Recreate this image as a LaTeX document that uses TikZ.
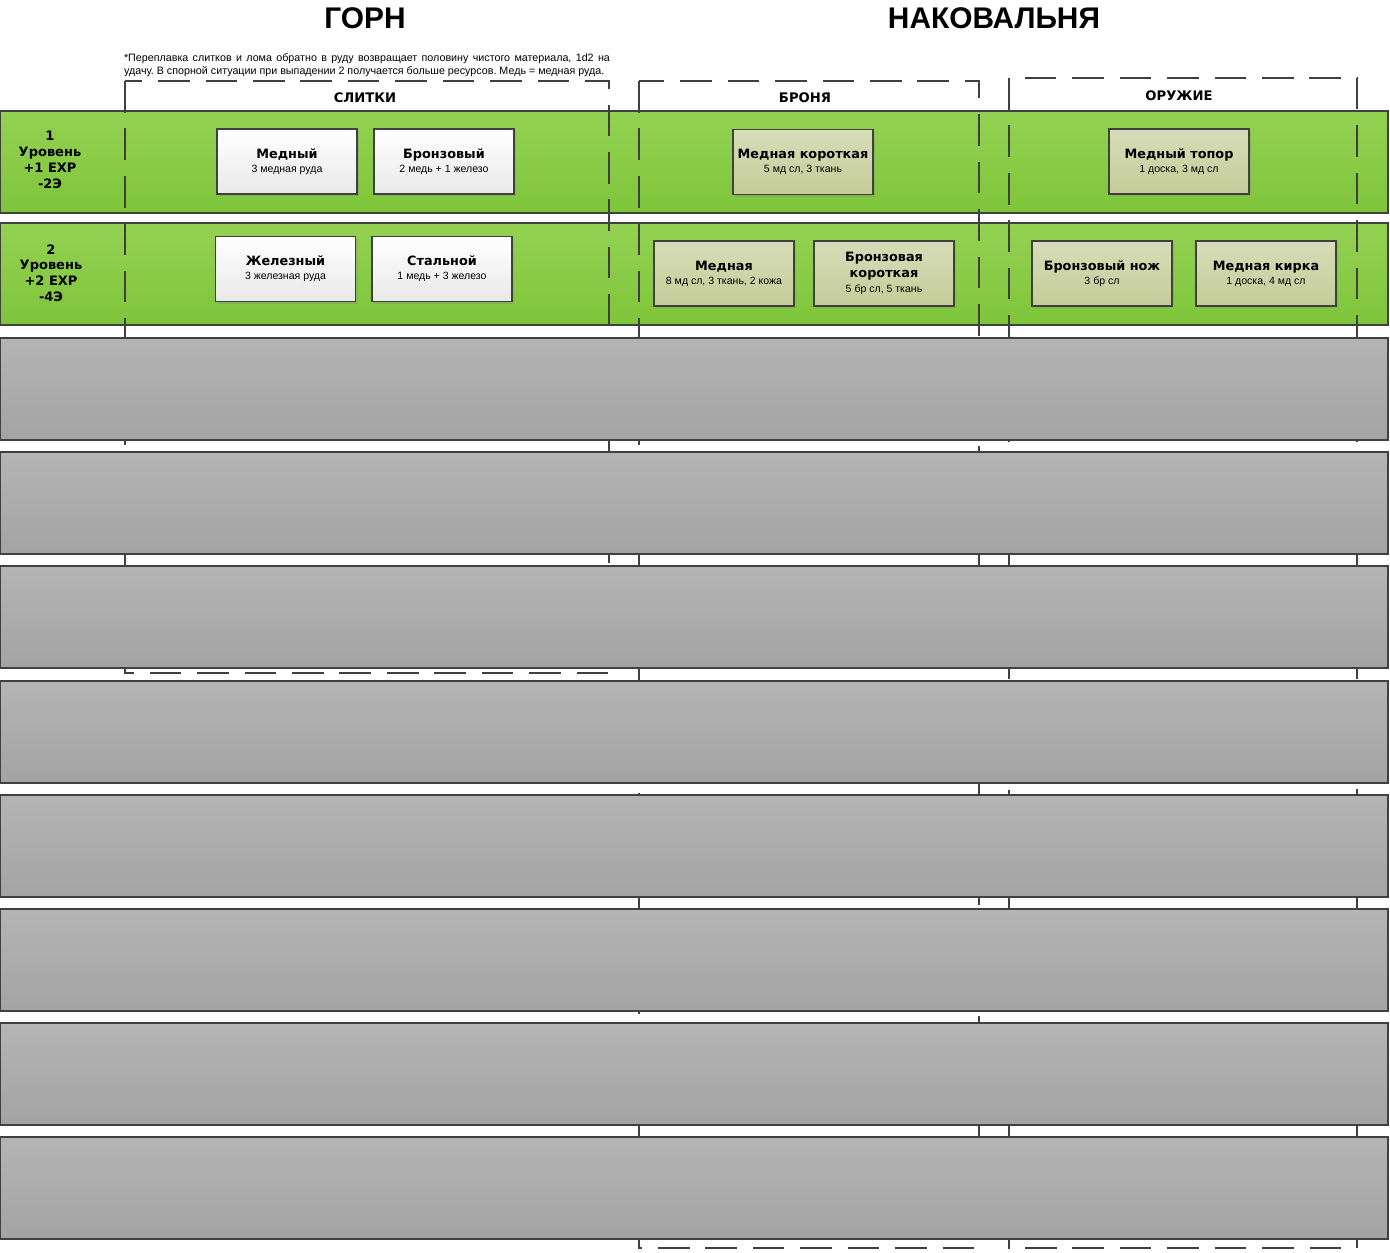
\documentclass[tikz,border=0pt]{standalone}
\usepackage{fontspec}
\setmainfont{Liberation Sans}
\newfontfamily\vfont{DejaVu Sans}
\usetikzlibrary{shadows}

\definecolor{edge}{HTML}{404040}
\definecolor{greentop}{HTML}{94D152}
\definecolor{greenbot}{HTML}{7EC53A}
\definecolor{graytop}{HTML}{B4B4B4}
\definecolor{graybot}{HTML}{A3A3A3}
\definecolor{khakitop}{HTML}{D6DDB8}
\definecolor{khakibot}{HTML}{C3CC97}

\newcommand{\ttl}{\vfont\bfseries\fontsize{7.3}{8.6}\selectfont}
\newcommand{\subfont}{\fontsize{6}{7}\selectfont}

\tikzset{
  band/.style={draw=edge, line width=0.7pt},
  greenband/.style={band, top color=greentop, bottom color=greenbot},
  grayband/.style={band, top color=graytop, bottom color=graybot},
  group/.style={draw=edge, line width=1.1pt, dash pattern=on 18pt off 9pt},
  item/.style={draw=edge, line width=0.6pt, minimum width=2.8cm, minimum height=1.3cm,
    align=center, inner sep=1pt, font=\fontsize{6}{8}\selectfont,
    drop shadow={opacity=0.25, shadow xshift=1.2pt, shadow yshift=-1.2pt}},
  ingot/.style={item, top color=white, bottom color=black!9},
  gear/.style={item, top color=khakitop, bottom color=khakibot},
  level/.style={align=center, font=\vfont\bfseries\fontsize{7.4}{9}\selectfont},
  head/.style={font=\vfont\bfseries\fontsize{7.5}{8}\selectfont},
  bigtitle/.style={font=\bfseries\fontsize{17}{20}\selectfont}
}

\begin{document}
\begin{tikzpicture}[x=0.02cm, y=-0.02cm]
  \useasboundingbox (0,0) rectangle (1390,1252);
  % titles
  \node[bigtitle] (gorn) at (365,18) {ГОРН};
  \node[bigtitle] (anvil) at (994,18) {НАКОВАЛЬНЯ};
  \node[text width=9.72cm, inner sep=0pt, align=justify, font=\frenchspacing\fontsize{6.1}{7.3}\selectfont] (note) at (367,65)
    {*Переплавка слитков и лома обратно в руду возвращает половину чистого материала, 1d2 на\linebreak
     удачу. В спорной ситуации при выпадении 2 получается больше ресурсов. Медь = медная руда.};
  % green levels
  \draw[greenband] (0,111) rectangle (1388,213);
  \draw[greenband] (0,223) rectangle (1388,325);
  % groups
  \draw[group] (125,81) rectangle (609,673);
  \draw[group] (639,81) rectangle (979,1248);
  \draw[group] (1009,78) rectangle (1357,1248);
  \node[head] (ingots) at (365,98) {СЛИТКИ};
  \node[head] (armour) at (805,98) {БРОНЯ};
  \node[head] (weapons) at (1179,96) {ОРУЖИЕ};
  % empty levels
  \foreach \top in {338,452,566,681,795,909,1023,1137}
    \draw[grayband] (0,\top) rectangle (1388,\top+102);
  % level 1
  \node[level] (lvl1) at (50,160) {1\\Уровень\\+1 EXP\\-2Э};
  \node[ingot] (copper) at (287,161.5) {{\ttl Медный}\\{\subfont 3 медная руда}};
  \node[ingot] (bronze) at (444,161.5) {{\ttl Бронзовый}\\{\subfont 2 медь + 1 железо}};
  \node[gear] (cshort) at (803,162) {{\ttl Медная короткая}\\{\subfont 5 мд сл, 3 ткань}};
  \node[gear] (caxe) at (1179,161.5) {{\ttl Медный топор}\\{\subfont 1 доска, 3 мд сл}};
  % level 2
  \node[level] (lvl2) at (51,273) {2\\Уровень\\+2 EXP\\-4Э};
  \node[ingot] (iron) at (285.5,269) {{\ttl Железный}\\{\subfont 3 железная руда}};
  \node[ingot] (steel) at (442,269) {{\ttl Стальной}\\{\subfont 1 медь + 3 железо}};
  \node[gear] (carmour) at (724,273.5) {{\ttl Медная}\\{\subfont 8 мд сл, 3 ткань, 2 кожа}};
  \node[gear, font=\fontsize{6}{9}\selectfont] (bshort) at (884,273.5) {{\ttl Бронзовая}\\{\ttl короткая}\\{\subfont 5 бр сл, 5 ткань}};
  \node[gear] (bknife) at (1102,273.5) {{\ttl Бронзовый нож}\\{\subfont 3 бр сл}};
  \node[gear] (cpick) at (1266,273.5) {{\ttl Медная кирка}\\{\subfont 1 доска, 4 мд сл}};
\end{tikzpicture}
\end{document}
